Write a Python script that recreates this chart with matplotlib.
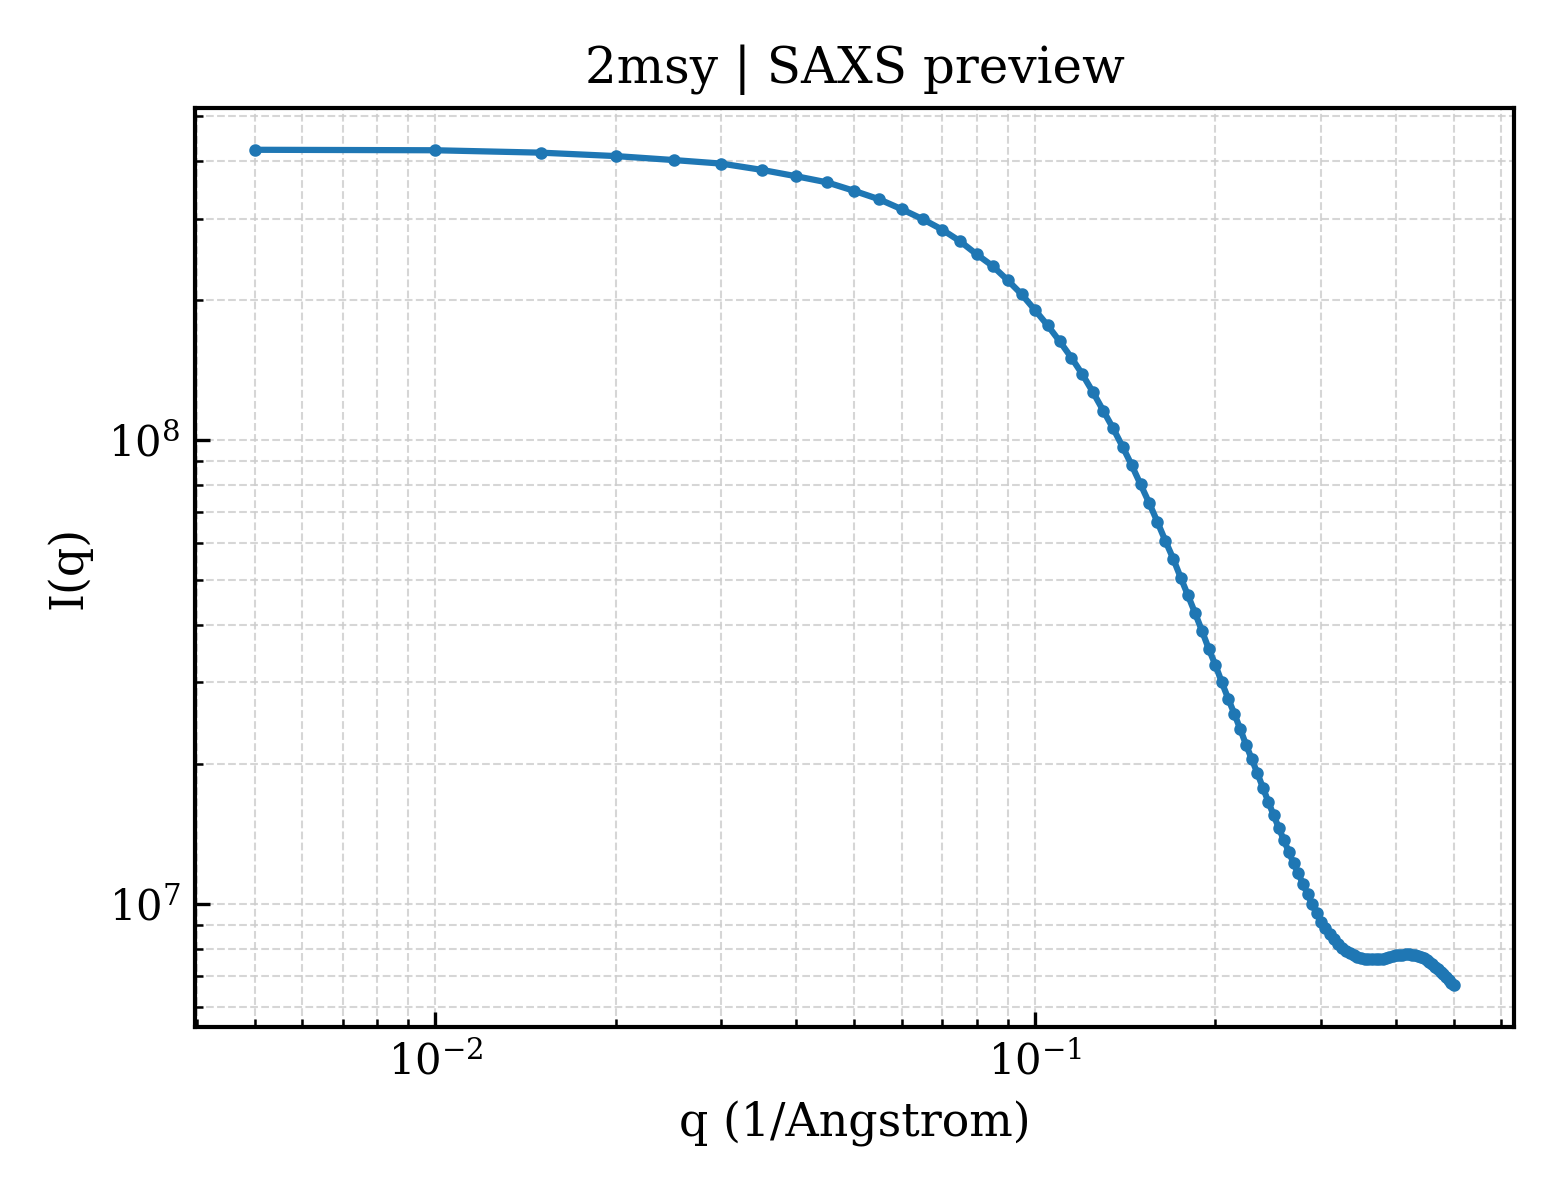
import numpy as np
import matplotlib
matplotlib.use("Agg")
import matplotlib.pyplot as plt

# ── data ─────────────────────────────────────────────────────────────────────
q = [0.005, 0.010, 0.015, 0.020, 0.025, 0.030, 0.035, 0.040, 0.045, 0.050,
     0.055, 0.060, 0.065, 0.070, 0.075, 0.080, 0.085, 0.090, 0.095, 0.100,
     0.105, 0.110, 0.115, 0.120, 0.125, 0.130, 0.135, 0.140, 0.145, 0.150,
     0.155, 0.160, 0.165, 0.170, 0.175, 0.180, 0.185, 0.190, 0.195, 0.200,
     0.205, 0.210, 0.215, 0.220, 0.225, 0.230, 0.235, 0.240, 0.245, 0.250,
     0.255, 0.260, 0.265, 0.270, 0.275, 0.280, 0.285, 0.290, 0.295, 0.300,
     0.305, 0.310, 0.315, 0.320, 0.325, 0.330, 0.335, 0.340, 0.345, 0.350,
     0.355, 0.360, 0.365, 0.370, 0.375, 0.380, 0.385, 0.390, 0.395, 0.400,
     0.405, 0.410, 0.415, 0.420, 0.425, 0.430, 0.435, 0.440, 0.445, 0.450,
     0.455, 0.460, 0.465, 0.470, 0.475, 0.480, 0.485, 0.490, 0.495, 0.500]

intensity = [
    4.22e8, 4.21e8, 4.16e8, 4.09e8, 4.01e8, 3.94e8, 3.82e8, 3.70e8, 3.59e8, 3.44e8,
    3.30e8, 3.14e8, 2.99e8, 2.84e8, 2.68e8, 2.51e8, 2.37e8, 2.21e8, 2.06e8, 1.905e8,
    1.765e8, 1.63e8, 1.504e8, 1.384e8, 1.266e8, 1.156e8, 1.059e8, 9.67e7, 8.82e7, 8.02e7,
    7.32e7, 6.66e7, 6.06e7, 5.55e7, 5.05e7, 4.62e7, 4.23e7, 3.87e7, 3.54e7, 3.27e7,
    3.00e7, 2.77e7, 2.57e7, 2.38e7, 2.20e7, 2.05e7, 1.91e7, 1.78e7, 1.66e7, 1.554e7,
    1.460e7, 1.373e7, 1.296e7, 1.223e7, 1.163e7, 1.102e7, 1.048e7, 9.97e6, 9.54e6, 9.15e6,
    8.86e6, 8.60e6, 8.38e6, 8.20e6, 8.04e6, 7.92e6, 7.82e6, 7.74e6, 7.69e6, 7.65e6,
    7.62e6, 7.60e6, 7.59e6, 7.59e6, 7.60e6, 7.62e6, 7.65e6, 7.69e6, 7.72e6, 7.74e6,
    7.76e6, 7.77e6, 7.78e6, 7.78e6, 7.77e6, 7.75e6, 7.72e6, 7.69e6, 7.65e6, 7.58e6,
    7.50e6, 7.40e6, 7.30e6, 7.22e6, 7.14e6, 7.05e6, 6.94e6, 6.85e6, 6.76e6, 6.67e6,
]

TITLE  = "2msy | SAXS preview"
XLABEL = "q (1/Angstrom)"
YLABEL = "I(q)"

# ── style ────────────────────────────────────────────────────────────────────
plt.rcParams["font.family"] = ["DejaVu Serif"]
plt.rcParams["mathtext.fontset"] = "dejavuserif"

fig, ax = plt.subplots(figsize=(5.2, 4.0), dpi=300)
fig.subplots_adjust(left=0.125, right=0.9705, bottom=0.144, top=0.91)

ax.plot(q, intensity, 'o-', color='#1f77b4', linewidth=1.5, markersize=2.0)
ax.set_xscale('log')
ax.set_yscale('log')

ax.set_title(TITLE, fontsize=12)
ax.set_xlabel(XLABEL, fontsize=11)
ax.set_ylabel(YLABEL, fontsize=11)

ax.tick_params(which='both', direction='in', labelsize=10)
ax.grid(True, which='both', linestyle='--', linewidth=0.5, color='#cccccc', alpha=0.8)
for s in ax.spines.values():
    s.set_linewidth(1.0)

plt.savefig("out.png", dpi=300)
plt.close()
